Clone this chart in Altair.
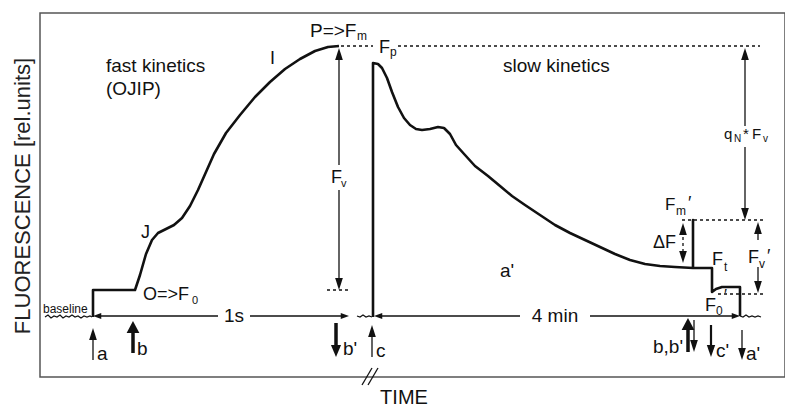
import altair as alt
import pandas as pd

# ---- traces (time in arbitrary units, fluorescence in rel. units) ----
fast_t = [93, 93, 135, 140, 146, 152, 158, 166, 174, 182, 190, 198, 206, 214, 226, 240, 255, 270, 285, 300, 315, 328, 339]
fast_f = [60, 87, 87, 102, 123, 137, 144, 148, 152, 159, 171, 187, 205, 223, 244, 262, 280, 295, 308, 318, 326, 330, 331]
slow_t = [373, 373, 378, 382, 387, 392, 398, 404, 410, 416, 422, 430, 438, 444, 450, 456, 465, 475, 488, 500,
          512, 525, 540, 555, 570, 585, 600, 615, 630, 645, 660, 675, 693, 693, 693, 712, 712, 716, 722, 740, 740]
slow_f = [60, 314, 313, 309, 299, 285, 270, 259, 252, 248, 247, 248, 250, 249, 243, 232, 222, 211, 201, 191,
          181, 172, 162, 152, 144, 137, 130, 123, 117, 113, 111, 110, 109, 157, 109, 109, 85, 88, 90, 90, 61]

noise1_t = [45, 48, 51, 54, 57, 60, 63, 66, 69, 72, 75, 78, 81, 84, 87, 90, 92]
noise1_f = [60, 62, 59, 61, 60, 62, 59, 61, 60, 62, 60, 61, 59, 61, 60, 61, 60]
noise2_t = [357, 360, 363, 366, 369, 372]
noise2_f = [61, 60, 62, 60, 61, 60]
noise3_t = [740, 743, 746, 749, 752, 755, 758, 761]
noise3_f = [61, 60, 62, 60, 61, 60, 61, 60]

# ---- annotation segments (x, y, x2, y2) ----
thin_segs = [(97, 61, 218, 61), (250, 61, 345, 61), (378, 61, 520, 61), (590, 61, 735, 61),
             (339, 322, 339, 212), (339, 187, 339, 95),
             (745, 322, 745, 251), (745, 230, 745, 165),
             (758, 148, 758, 137), (758, 110, 758, 92),
             (93, 17, 93, 42), (372, 20, 372, 44), (694, 57, 694, 33), (742, 47, 742, 26),
             (362, -8, 372, 9), (368, -8, 378, 9)]
thick_segs = [(133, 24, 133, 48), (336, 54, 336, 30), (688, 25, 688, 49)]
mid_segs = [(711, 52, 711, 28)]
dash_segs = [(341, 331, 373, 331), (398, 331, 760, 331), (327, 87, 348, 87),
             (682, 157, 763, 157), (718, 83, 763, 83), (683, 146, 683, 122)]

# ---- arrow heads (tip x, tip y, kind) ----
heads = [(93, 49, "up_thin"), (372, 52, "up_thin"), (133, 56, "up_thick"), (688, 59, "up_thick"),
         (336, 20, "down_thick"), (711, 20, "down_mid"), (694, 25, "down_thin"), (742, 17, "down_thin"),
         (339, 329, "up_thin"), (339, 87, "down_thin"),
         (745, 329, "up_thin"), (745, 157, "down_thin"),
         (758, 155, "up_thin"), (758, 84, "down_thin"),
         (683, 154, "up_thin"), (683, 114, "down_thin"),
         (93, 61, "left"), (349, 61, "right"),
         (374, 61, "left"), (740, 61, "right")]

# ---- labels (text, x, y, size) ----
labels = [("fast kinetics", 106, 305, 19), ("(OJIP)", 106, 282, 19),
          ("P=>F", 310, 340, 19), ("m", 357, 337, 12),
          ("F", 379, 324, 18), ("p", 390, 321, 12),
          ("I", 270, 313, 18), ("J", 141, 139, 18),
          ("O=>F", 143, 77, 18), ("0", 192, 73, 11),
          ("F", 331, 194, 18), ("v", 341, 190, 11),
          ("baseline", 43, 64, 12),
          ("a", 97, 17, 19), ("b", 137, 22, 19), ("b'", 343, 22, 19), ("c", 376, 20, 19),
          ("slow kinetics", 503, 305, 19),
          ("q", 724, 238, 15), ("N", 734, 235, 10), ("*", 743, 238, 15), ("F", 752, 238, 15), ("v", 763, 235, 10),
          ("F", 665, 167, 17), ("m", 676, 162, 12), ("\u2032", 688, 168, 18),
          ("\u0394F", 653, 129, 18),
          ("F", 712, 112, 18), ("t", 724, 106, 12),
          ("F", 748, 114, 18), ("v", 759, 109, 12), ("\u2032", 767, 115, 18),
          ("F", 705, 66, 18), ("0", 716, 62, 12), ("\u2032", 724, 76, 16),
          ("a'", 500, 100, 19),
          ("b,b'", 653, 24, 19), ("c'", 716, 20, 19), ("a'", 746, 17, 19)]
center_labels = [("1s", 234, 55, 19), ("4 min", 555, 55, 19), ("TIME", 404, -27, 20)]
y_title = [("FLUORESCENCE [rel.units]", 23, 181, 22)]

FONT = "Liberation Sans"
INK = "#111111"

xs = alt.Scale(domain=[40, 785])
ys = alt.Scale(domain=[0, 364])

def trace_df(series):
    rows = []
    for name, ts, fs in series:
        for i, (t, f) in enumerate(zip(ts, fs)):
            rows.append({"seg": name, "i": i, "t": t, "f": f})
    return pd.DataFrame(rows)

traces = trace_df([("fast", fast_t, fast_f), ("slow", slow_t, slow_f)])
noises = trace_df([("n1", noise1_t, noise1_f), ("n2", noise2_t, noise2_f), ("n3", noise3_t, noise3_f)])

def seg_df(segs):
    return pd.DataFrame(segs, columns=["x", "y", "x2", "y2"])

enc_line = dict(x=alt.X("t:Q", scale=xs, axis=None), y=alt.Y("f:Q", scale=ys, axis=None),
                detail="seg:N", order="i:Q")

trace_layer = alt.Chart(traces).mark_line(color=INK, strokeWidth=2.6, strokeJoin="round").encode(**enc_line)
noise_layer = alt.Chart(noises).mark_line(color=INK, strokeWidth=1.2).encode(**enc_line)

def rule_layer(segs, **kw):
    return alt.Chart(seg_df(segs)).mark_rule(color=INK, **kw).encode(
        x=alt.X("x:Q", scale=xs, axis=None), y=alt.Y("y:Q", scale=ys, axis=None),
        x2="x2:Q", y2="y2:Q")

thin_layer = rule_layer(thin_segs, strokeWidth=1.3)
thick_layer = rule_layer(thick_segs, strokeWidth=3.5)
mid_layer = rule_layer(mid_segs, strokeWidth=2.2)
dash_layer = rule_layer(dash_segs, strokeWidth=1.3, strokeDash=[3, 3])

# custom arrow-head paths (tip at origin), drawn at size 484 -> 11 px per unit
paths = {
    "up_thin": "M0,0L-0.35,1.1L0.35,1.1Z",
    "up_thick": "M0,0L-0.58,1.1L0.58,1.1Z",
    "down_thin": "M0,0L-0.35,-1.1L0.35,-1.1Z",
    "down_mid": "M0,0L-0.38,-1.1L0.38,-1.1Z",
    "down_thick": "M0,0L-0.46,-1.1L0.46,-1.1Z",
    "left": "M0,0L0.75,-0.28L0.75,0.28Z",
    "right": "M0,0L-0.75,-0.28L-0.75,0.28Z",
}
heads_df = pd.DataFrame(heads, columns=["x", "y", "kind"])
head_layer = alt.Chart(heads_df).mark_point(filled=True, opacity=1, color=INK, strokeWidth=0, size=484).encode(
    x=alt.X("x:Q", scale=xs, axis=None), y=alt.Y("y:Q", scale=ys, axis=None),
    shape=alt.Shape("kind:N", scale=alt.Scale(domain=list(paths.keys()), range=list(paths.values())), legend=None))

def text_layer(rows, **kw):
    df = pd.DataFrame(rows, columns=["label", "x", "y", "s"])
    return alt.Chart(df).mark_text(font=FONT, color=INK, baseline="alphabetic", **kw).encode(
        x=alt.X("x:Q", scale=xs, axis=None), y=alt.Y("y:Q", scale=ys, axis=None),
        text="label:N", size=alt.Size("s:Q", scale=None))

lab_layer = text_layer(labels, align="left")
clab_layer = text_layer(center_labels, align="center")
yt_df = pd.DataFrame(y_title, columns=["label", "x", "y", "s"])
yt_layer = alt.Chart(yt_df).mark_text(font=FONT, color="#222222", angle=270, align="center",
                                      baseline="middle").encode(
    x=alt.X("x:Q", scale=xs, axis=None), y=alt.Y("y:Q", scale=ys, axis=None),
    text="label:N", size=alt.Size("s:Q", scale=None))

chart = alt.layer(trace_layer, noise_layer, thin_layer, thick_layer, mid_layer, dash_layer,
                  head_layer, lab_layer, clab_layer, yt_layer).properties(
    width=745, height=364,
    autosize=alt.AutoSizeParams(type="none"),
    padding={"left": 40, "top": 13, "right": 0, "bottom": 32},
).configure_view(stroke="#555555", strokeWidth=1.5)

chart.save("out.html", embed_options={"renderer": "svg", "actions": False})
